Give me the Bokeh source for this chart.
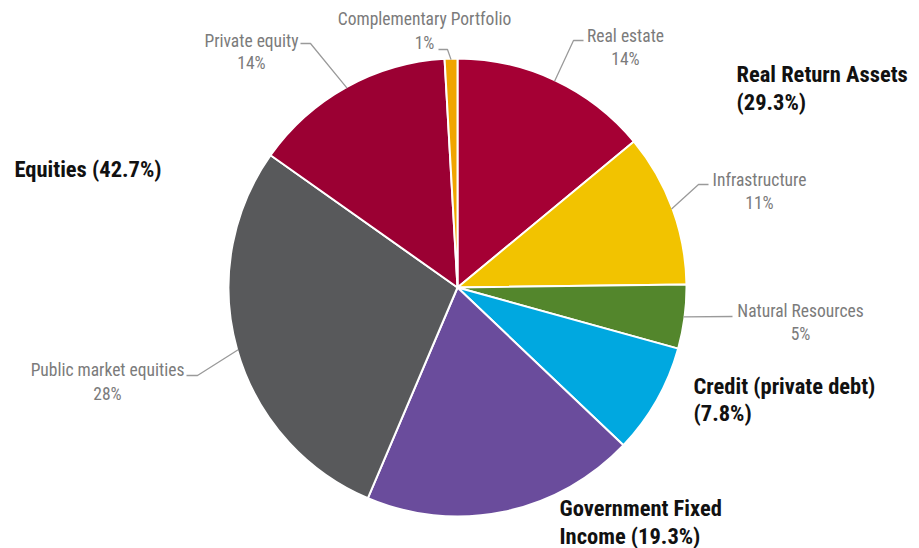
import numpy as np
from bokeh.plotting import figure
from bokeh.models import Range1d
from bokeh.core.properties import value
from bokeh.embed import file_html
from bokeh.resources import INLINE

# ---- data (clockwise from 12 o'clock) ----
categories = ["Real estate", "Infrastructure", "Natural Resources", "Credit (private debt)",
              "Government Fixed Income", "Public market equities", "Private equity",
              "Complementary Portfolio"]
shares = [14.0, 10.8, 4.5, 7.8, 19.3, 28.4, 14.3, 0.9]
colors = ["#A50034", "#F2C300", "#53862C", "#00A8E0", "#6A4C9C", "#58595B", "#9B0033", "#F0A500"]

# small grey slice labels
slice_label_names = ["Real estate", "Infrastructure", "Natural Resources",
                     "Public market equities", "Private equity", "Complementary Portfolio"]
slice_label_pcts = ["14%", "11%", "5%", "28%", "14%", "1%"]

# bold group labels
group_names = ["Real Return Assets", "Equities", "Credit (private debt)", "Government Fixed Income"]
group_pcts = ["29.3%", "42.7%", "7.8%", "19.3%"]

# ---- layout ----
W, H = 919, 548
CX, CY, R = 457, H - 287, 229
FONT = "Roboto Condensed"

def sy(y):
    return H - y

p = figure(width=W, height=H, x_range=Range1d(0, W), y_range=Range1d(0, H),
           output_backend="svg", toolbar_location=None, min_border=0,
           outline_line_color=None, background_fill_color="white")
p.axis.visible = False
p.grid.visible = False

vals = np.array(shares)
frac = vals / vals.sum()
cum_end = np.cumsum(frac)
cum_start = cum_end - frac
start_ang = np.pi / 2 - 2 * np.pi * cum_start
end_ang = np.pi / 2 - 2 * np.pi * cum_end
p.wedge(x=CX, y=CY, radius=R, start_angle=start_ang, end_angle=end_ang,
        direction="clock", fill_color=colors, line_color="white", line_width=2)

mid = {c: np.pi / 2 - 2 * np.pi * (s + f / 2) for c, s, f in zip(categories, cum_start, frac)}

def edge(cat):
    a = mid[cat]
    return CX + (R - 1) * np.cos(a), CY + (R - 1) * np.sin(a)

# label layout: name -> (text center x, name y, pct y, elbow pts (screen))
layout = {
    "Real estate": (625, 35, 58, [(573, 40), (583, 40)]),
    "Infrastructure": (759, 179, 202, [(698, 184), (708, 184)]),
    "Natural Resources": (800, 310, 333, [(732, 316)]),
    "Public market equities": (107, 369, 393, [(197, 375), (186, 375)]),
    "Private equity": (251, 40, 62, [(310, 43), (300, 43)]),
    "Complementary Portfolio": (424, 18, 42, [(447, 49), (438, 49)]),
}
grey = "#7b7b7b"
for name, pct in zip(slice_label_names, slice_label_pcts):
    x, yn, yp, elbows = layout[name]
    ex, ey = edge(name)
    xs = [ex] + [e[0] for e in elbows]
    ys = [ey] + [sy(e[1]) for e in elbows]
    p.line(xs, ys, line_color="#9a9a9a", line_width=1.3)
    p.text(x=[x, x], y=[sy(yn), sy(yp)], text=[name, pct], text_align="center",
           text_baseline="middle", text_font=value(FONT), text_font_size="17.5px",
           text_color=grey)

# bold group labels: (left x, [line ys]) and line texts
glayout = {
    "Real Return Assets": (736, [73, 101], lambda n, q: [n, f"({q})"]),
    "Equities": (14, [168], lambda n, q: [f"{n} ({q})"]),
    "Credit (private debt)": (693, [385, 412], lambda n, q: [n, f"({q})"]),
    "Government Fixed Income": (559, [507, 535], lambda n, q: ["Government Fixed", f"Income ({q})"]),
}
for name, pct in zip(group_names, group_pcts):
    x, ys, fmt = glayout[name]
    lines = fmt(name, pct)
    p.text(x=[x] * len(lines), y=[sy(v) for v in ys], text=lines, text_align="left",
           text_baseline="middle", text_font=value(FONT), text_font_size="22.5px",
           text_font_style="bold", text_color="#111111")

open("out.html", "w").write(file_html(p, INLINE))
